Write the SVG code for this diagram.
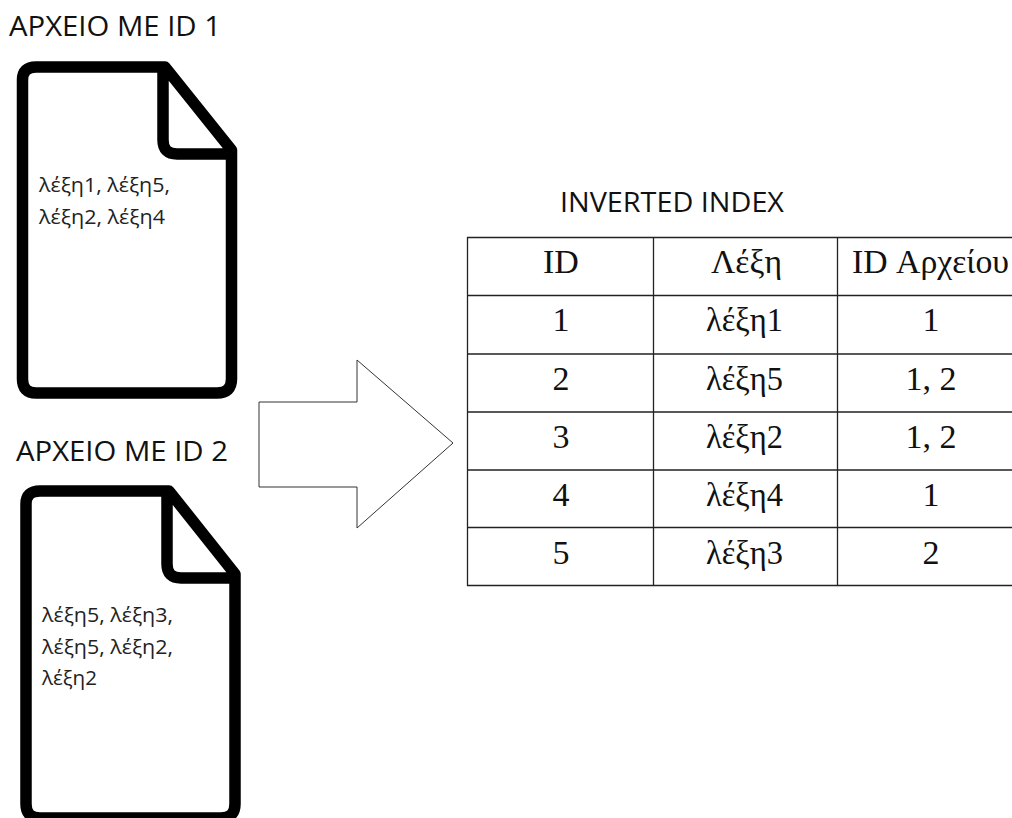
<svg xmlns="http://www.w3.org/2000/svg" width="1012" height="818" viewBox="0 0 1012 818">
<style>
.doc{fill:none;stroke:#000;stroke-width:11.500;stroke-linejoin:round}
.cap{font-family:"Open Sans","Noto Sans",sans-serif;font-size:28px;fill:#111}
.body{font-family:"Open Sans","Noto Sans",sans-serif;font-size:19.500px;fill:#222}
.cell{font-family:"Liberation Serif",serif;font-size:34px;fill:#111;text-anchor:middle}
.grid{stroke:#222;stroke-width:1.3;fill:none}
</style>
<rect width="1012" height="818" fill="#fff"/>
<g id="file1">
<path class="doc" d="M36 67H165L231.500 150V379Q231.500 393 217 393H36Q22.500 393 22.500 379V80Q22.500 67 36 67ZM163 67V140Q163 154 177 154H231.500"/>
<text class="cap" x="9" y="36" textLength="212" lengthAdjust="spacingAndGlyphs">ΑΡΧΕΙΟ ΜΕ ID 1</text>
<text class="body" x="39" y="192" textLength="131" lengthAdjust="spacingAndGlyphs">λέξη1, λέξη5,</text>
<text class="body" x="39" y="224" textLength="126" lengthAdjust="spacingAndGlyphs">λέξη2, λέξη4</text>
</g>
<g id="file2">
<path class="doc" d="M40 491H169L235 574V804Q235 818 221 818H40Q26 818 26 804V504Q26 491 40 491ZM167 491V564Q167 578 181 578H235"/>
<text class="cap" x="16" y="461" textLength="212" lengthAdjust="spacingAndGlyphs">ΑΡΧΕΙΟ ΜΕ ID 2</text>
<text class="body" x="42" y="622" textLength="131" lengthAdjust="spacingAndGlyphs">λέξη5, λέξη3,</text>
<text class="body" x="42" y="654" textLength="131" lengthAdjust="spacingAndGlyphs">λέξη5, λέξη2,</text>
<text class="body" x="42" y="685" textLength="55" lengthAdjust="spacingAndGlyphs">λέξη2</text>
</g>
<g id="connectors">
<path d="M259 402H357V360L453 443L357 528V487H259Z" fill="#fff" stroke="#333" stroke-width="1"/>
</g>
<g id="inverted-index">
<text class="cap" x="560" y="212" textLength="224" lengthAdjust="spacingAndGlyphs">INVERTED INDEX</text>
<path class="grid" d="M467 237.500H1012M467 295.500H1012M467 354H1012M467 412H1012M467 470H1012M467 527.500H1012M467 585.500H1012M467.500 237V586M653.500 237V586M837.500 237V586"/>
<text class="cell" x="561" y="273">ID</text><text class="cell" x="746.500" y="273" textLength="71" lengthAdjust="spacingAndGlyphs">Λέξη</text><text class="cell" x="930.500" y="273" textLength="157" lengthAdjust="spacingAndGlyphs">ID Αρχείου</text>
<text class="cell" x="561" y="331">1</text><text class="cell" x="744.500" y="331" textLength="77" lengthAdjust="spacingAndGlyphs">λέξη1</text><text class="cell" x="931" y="331">1</text>
<text class="cell" x="561" y="390">2</text><text class="cell" x="744.500" y="390" textLength="77" lengthAdjust="spacingAndGlyphs">λέξη5</text><text class="cell" x="931" y="390">1, 2</text>
<text class="cell" x="561" y="448">3</text><text class="cell" x="744.500" y="448" textLength="77" lengthAdjust="spacingAndGlyphs">λέξη2</text><text class="cell" x="931" y="448">1, 2</text>
<text class="cell" x="561" y="506">4</text><text class="cell" x="744.500" y="506" textLength="77" lengthAdjust="spacingAndGlyphs">λέξη4</text><text class="cell" x="931" y="506">1</text>
<text class="cell" x="561" y="564">5</text><text class="cell" x="744.500" y="564" textLength="77" lengthAdjust="spacingAndGlyphs">λέξη3</text><text class="cell" x="931" y="564">2</text>
</g>
</svg>
